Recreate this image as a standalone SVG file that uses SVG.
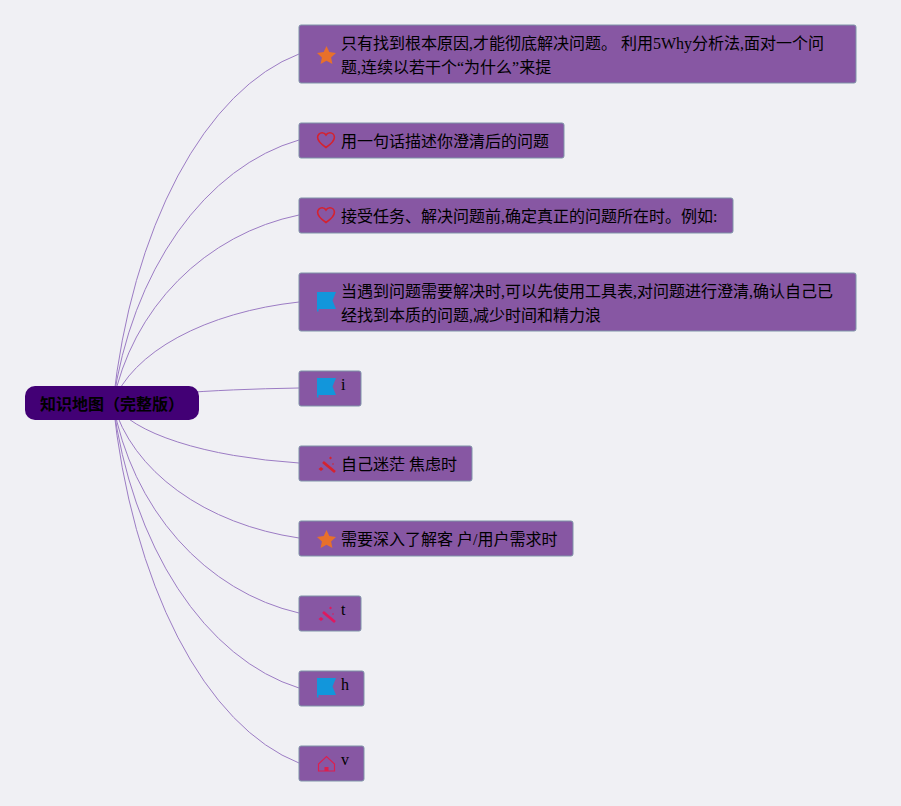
<svg xmlns="http://www.w3.org/2000/svg" width="901" height="806" viewBox="0 0 901 806">
<style>
text{font-family:"Liberation Serif","Noto Sans CJK SC",serif;font-size:16px;fill:#000}
.n{fill:#8757a3;stroke:#7e93a8;stroke-width:1}
.c{fill:none;stroke:#9c7cc4;stroke-width:1}
.o{fill:none;stroke-width:1.6}
</style>
<defs>
<path id="star" d="M9.500 0l2.800 6 6.700.9-4.900 4.500 1.300 6.600-5.900-3.200L3.600 18l1.300-6.600L0 6.900 6.700 6z"/>
<path id="heart" d="M9 15.500C3 11.500.6 8.500.6 5.300.6 2.700 2.700.8 5.100.8 6.700.8 8.200 1.600 9 3 9.800 1.600 11.300.8 12.900.8 15.300.8 17.400 2.700 17.400 5.300 17.400 8.500 15 11.500 9 15.500z"/>
<path id="flag" d="M0 0H19L15.500 8.500 19 17H1.500V19.500H0z"/>
<g id="wand"><path d="M6 7L18 17" stroke-width="2.800" fill="none"/><path d="M1.500 14l2.500-2 2.500 2-2.500 2z"/><path d="M12 3l1.500-1.500L15 3l-1.500 1.500z"/><circle cx="16" cy="9" r=".8"/></g>
</defs>
<rect width="901" height="806" fill="#f0f0f4"/>
<g id="connectors">
<path class="c" d="M113 403A238 445 0 0 1 299 54"/>
<path class="c" d="M113 403A238 335 0 0 1 299 140"/>
<path class="c" d="M113 403A238 240 0 0 1 299 215"/>
<path class="c" d="M113 403A238 129 0 0 1 299 302"/>
<path class="c" d="M113 403A238 19 0 0 1 299 388"/>
<path class="c" d="M113 403A238 76.500 0 0 0 299 463"/>
<path class="c" d="M113 403A238 172 0 0 0 299 538"/>
<path class="c" d="M113 403A238 268 0 0 0 299 613"/>
<path class="c" d="M113 403A238 363 0 0 0 299 688"/>
<path class="c" d="M113 403A238 459 0 0 0 299 763"/>
</g>
<g id="root"><rect x="25" y="386" width="174" height="34" rx="10" fill="#420075"/><text x="40" y="410" font-weight="bold">知识地图（完整版）</text></g>
<g id="node1"><rect class="n" x="299" y="25" width="557" height="58" rx="2"/><use href="#star" x="317" y="46" fill="#e8702a"/><text x="341" y="49">只有找到根本原因,才能彻底解决问题。 利用5Why分析法,面对一个问</text><text x="341" y="73">题,连续以若干个“为什么”来提</text></g>
<g id="node2"><rect class="n" x="299" y="123" width="265" height="35" rx="2"/><use href="#heart" x="317" y="132" class="o" stroke="#d5222f"/><text x="341" y="147">用一句话描述你澄清后的问题</text></g>
<g id="node3"><rect class="n" x="299" y="198" width="434" height="35" rx="2"/><use href="#heart" x="317" y="207" class="o" stroke="#d5222f"/><text x="341" y="222">接受任务、解决问题前,确定真正的问题所在时。例如:</text></g>
<g id="node4"><rect class="n" x="299" y="273" width="557" height="58" rx="2"/><use href="#flag" x="317" y="292" fill="#1296db"/><text x="341" y="297">当遇到问题需要解决时,可以先使用工具表,对问题进行澄清,确认自己已</text><text x="341" y="321">经找到本质的问题,减少时间和精力浪</text></g>
<g id="node5"><rect class="n" x="299" y="371" width="62" height="35" rx="2"/><use href="#flag" x="317" y="378" fill="#1296db"/><text x="341" y="390">i</text></g>
<g id="node6"><rect class="n" x="299" y="446" width="173" height="35" rx="2"/><use href="#wand" x="317" y="455" fill="#d5222f" stroke="#d5222f" stroke-width="0"/><text x="341" y="470">自己迷茫 焦虑时</text></g>
<g id="node7"><rect class="n" x="299" y="521" width="274" height="35" rx="2"/><use href="#star" x="317" y="530" fill="#e8702a"/><text x="341" y="545">需要深入了解客 户/用户需求时</text></g>
<g id="node8"><rect class="n" x="299" y="596" width="62" height="35" rx="2"/><use href="#wand" x="317" y="605" fill="#e0185f" stroke="#e0185f" stroke-width="0"/><text x="341" y="615">t</text></g>
<g id="node9"><rect class="n" x="299" y="671" width="65" height="35" rx="2"/><use href="#flag" x="317" y="678" fill="#1296db"/><text x="341" y="690">h</text></g>
<g id="node10"><rect class="n" x="299" y="746" width="65" height="35" rx="2"/><path d="M318.500 771V764L326.500 756.500 334.500 764V771z" fill="none" stroke="#dc1f4f" stroke-width="1.200"/><rect x="324.500" y="767" width="4" height="4" fill="#dc1f4f"/><text x="341" y="765">v</text></g>
</svg>
